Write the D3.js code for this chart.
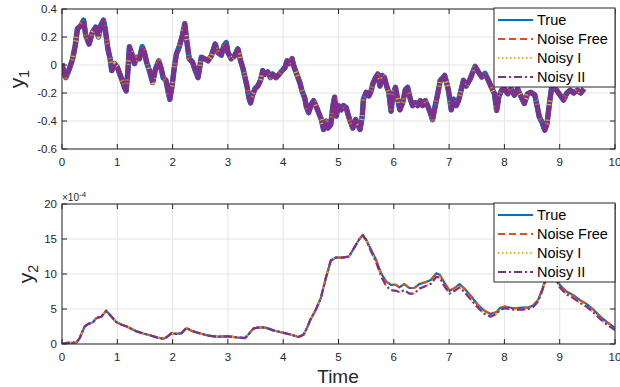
<!DOCTYPE html>
<html>
<head>
<meta charset="utf-8">
<script src="https://cdn.jsdelivr.net/npm/d3@7"></script>
<style>
  body { margin: 0; background: #fff; }
  svg { display: block; font-family: "Liberation Sans", Arial, sans-serif; }
</style>
</head>
<body>
<svg id="chart" width="620" height="387"></svg>
<script>
// ---- data ----
const y1Time = [0,0.04,0.07,0.13,0.19,0.24,0.28,0.34,0.39,0.43,0.49,0.55,0.61,0.66,0.70,0.75,0.78,0.83,0.87,0.90,0.95,
  1.00,1.07,1.13,1.16,1.19,1.22,1.27,1.31,1.35,1.40,1.45,1.49,1.53,1.58,1.64,1.69,1.75,1.79,1.83,1.88,1.93,1.95,1.99,
  2.03,2.07,2.12,2.17,2.22,2.25,2.30,2.36,2.42,2.46,2.52,2.58,2.64,2.70,2.73,2.77,2.82,2.88,2.93,2.97,
  3.00,3.06,3.12,3.18,3.23,3.27,3.31,3.35,3.38,3.41,3.45,3.49,3.54,3.59,3.63,3.67,3.72,3.77,3.81,3.87,3.93,3.98,
  4.03,4.07,4.11,4.16,4.19,4.23,4.30,4.34,4.39,4.42,4.46,4.51,4.55,4.60,4.64,4.69,4.73,4.78,4.81,4.86,4.90,4.93,4.96,
  5.00,5.05,5.09,5.14,5.17,5.21,5.26,5.31,5.35,5.39,5.43,5.45,5.50,5.55,5.59,5.62,5.67,5.71,5.75,5.79,5.83,5.87,5.91,5.95,5.98,
  6.03,6.07,6.11,6.16,6.21,6.25,6.30,6.34,6.39,6.43,6.48,6.52,6.57,6.61,6.66,6.70,6.75,6.80,6.84,6.89,6.92,6.96,6.99,
  7.04,7.08,7.13,7.17,7.22,7.26,7.31,7.38,7.47,7.53,7.59,7.65,7.71,7.76,7.82,7.86,7.90,7.95,
  8.00,8.06,8.12,8.18,8.24,8.30,8.36,8.42,8.48,8.55,8.59,8.63,8.68,8.73,8.77,8.81,8.85,8.89,8.98,
  9.07,9.13,9.19,9.25,9.32,9.38,9.44];
const y1Values = [0.01,-0.065,-0.09,-0.03,0.04,0.14,0.26,0.28,0.32,0.21,0.15,0.235,0.27,0.2,0.28,0.32,0.26,0.115,0.045,-0.04,0.01,
  -0.015,-0.09,-0.16,-0.185,-0.05,0.13,0.07,0.01,0.055,0.045,0.13,0.09,0.02,-0.04,-0.125,-0.03,0.03,-0.02,-0.09,-0.11,-0.21,-0.245,-0.15,
  -0.02,0.08,0.13,0.2,0.295,0.19,0.045,0.02,-0.05,-0.09,0.055,0.045,0.03,0.065,0.10,0.15,0.09,0.07,0.14,0.16,
  0.09,0.045,0.065,0.115,0.03,-0.02,-0.09,-0.16,-0.235,-0.27,-0.21,-0.17,-0.15,-0.11,-0.04,-0.065,-0.05,-0.09,-0.065,-0.09,-0.065,-0.04,
  -0.02,0.03,0.01,0.045,-0.005,-0.05,-0.125,-0.185,-0.235,-0.30,-0.34,-0.28,-0.255,-0.30,-0.34,-0.39,-0.46,-0.40,-0.45,-0.425,-0.29,-0.23,-0.365,
  -0.29,-0.32,-0.29,-0.305,-0.35,-0.40,-0.45,-0.39,-0.425,-0.46,-0.365,-0.245,-0.195,-0.22,-0.185,-0.135,-0.09,-0.065,-0.15,-0.075,-0.09,-0.15,-0.195,-0.33,-0.22,
  -0.16,-0.245,-0.32,-0.27,-0.175,-0.16,-0.245,-0.29,-0.27,-0.29,-0.255,-0.29,-0.255,-0.29,-0.34,-0.39,-0.29,-0.195,-0.11,-0.09,-0.075,-0.135,-0.185,
  -0.32,-0.245,-0.29,-0.255,-0.175,-0.11,-0.15,-0.10,-0.01,-0.05,-0.085,-0.06,-0.11,-0.155,-0.205,-0.325,-0.225,-0.18,
  -0.17,-0.205,-0.17,-0.215,-0.17,-0.225,-0.275,-0.205,-0.195,-0.215,-0.29,-0.37,-0.41,-0.465,-0.42,-0.29,-0.17,-0.15,-0.2,
  -0.25,-0.2,-0.18,-0.2,-0.18,-0.2,-0.17];

const y2Time = [0,0.08,0.26,0.32,0.41,0.47,0.56,0.62,0.71,0.80,0.89,0.98,1.08,1.17,1.26,1.35,1.47,1.59,1.71,1.83,1.89,1.98,
  2.07,2.16,2.25,2.34,2.50,2.65,2.80,3.01,3.16,3.31,3.37,3.46,3.58,3.70,3.82,3.98,4.13,4.28,4.37,4.43,4.49,4.59,4.68,4.77,4.86,4.95,
  5.07,5.19,5.28,5.37,5.44,5.50,5.59,5.68,5.77,5.86,5.95,6.04,6.10,6.19,6.28,6.37,6.46,6.58,6.67,6.77,6.83,6.92,
  7.01,7.10,7.19,7.28,7.40,7.52,7.64,7.75,7.86,7.92,8.01,8.10,8.19,8.31,8.43,8.52,8.61,8.67,8.73,8.80,8.86,8.93,
  9.00,9.12,9.24,9.36,9.49,9.61,9.73,9.85,10.0];
// values in units of 1e-4
const y2True = [0,0.15,0.2,0.85,2.5,2.85,3.1,3.7,3.9,4.75,3.95,3.15,2.75,2.5,2.15,1.8,1.5,1.25,0.95,0.75,0.95,1.55,
  1.45,1.55,2.3,1.9,1.5,1.2,1.05,1.1,0.95,0.85,1.35,2.2,2.4,2.3,1.95,1.65,1.35,1.0,1.35,2.3,3.45,4.9,6.55,9.4,11.9,12.35,
  12.35,12.5,13.7,14.9,15.6,14.9,13.45,12.0,10.1,8.95,8.45,8.45,8.1,8.55,8.0,8.0,8.55,8.85,9.15,10.1,9.9,8.7,
  7.6,8.0,8.55,7.9,6.8,5.6,4.75,4.3,4.55,5.15,5.35,5.2,5.1,5.2,5.2,5.5,6.3,7.5,8.9,10.6,11.0,9.6,
  8.45,7.5,7.0,6.3,5.7,4.9,3.95,3.15,2.3];
const y2Noisy = [0,0.15,0.2,0.85,2.5,2.85,3.1,3.7,3.9,4.75,3.95,3.15,2.75,2.5,2.15,1.8,1.5,1.25,0.95,0.75,0.95,1.55,
  1.45,1.55,2.3,1.9,1.5,1.2,1.05,1.1,0.95,0.85,1.35,2.2,2.4,2.3,1.95,1.65,1.35,1.0,1.35,2.3,3.45,4.9,6.55,9.4,11.9,12.35,
  12.35,12.5,13.7,14.9,15.5,14.8,13.2,11.7,9.7,8.3,7.7,7.6,7.4,7.7,7.2,7.2,7.9,8.3,8.6,9.6,9.5,8.2,
  7.2,7.6,8.1,7.4,6.3,5.2,4.3,3.9,4.3,4.9,5.1,5.0,4.9,4.9,5.0,5.3,6.1,7.3,8.7,10.4,10.8,9.3,
  8.1,7.1,6.6,5.9,5.3,4.5,3.6,2.8,2.0];

const xTicks = [0,1,2,3,4,5,6,7,8,9,10];
const y1Ticks = [-0.6,-0.4,-0.2,0,0.2,0.4];
const y2Ticks = [0,5,10,15,20];
const seriesNames = ["True", "Noise Free", "Noisy I", "Noisy II"];

// ---- styles ----
const colors = ["#0072BD", "#D95319", "#EDB120", "#7E2F8E"];
const dashes = [null, "7,4", "1.5,2.5", "8,3,2,3"];
const axisColor = "#262626";

const left = 62, right = 615;
const svg = d3.select("#chart");

const x = d3.scaleLinear().domain([0, 10]).range([left, right]);

function panel(opts) {
  const y = d3.scaleLinear().domain(opts.domain).range([opts.bottom, opts.top]);
  const g = svg.append("g");
  const clipId = "clip" + opts.id;
  g.append("clipPath").attr("id", clipId)
    .append("rect").attr("x", left).attr("y", opts.top)
    .attr("width", right - left).attr("height", opts.bottom - opts.top);

  // grid
  g.selectAll(".gx").data(xTicks).enter().append("line")
    .attr("x1", d => x(d)).attr("x2", d => x(d))
    .attr("y1", opts.top).attr("y2", opts.bottom)
    .attr("stroke", "#e5e5e5").attr("stroke-width", 1);
  g.selectAll(".gy").data(opts.ticks).enter().append("line")
    .attr("x1", left).attr("x2", right)
    .attr("y1", d => y(d)).attr("y2", d => y(d))
    .attr("stroke", "#e5e5e5").attr("stroke-width", 1);

  // series
  const lines = g.append("g").attr("clip-path", "url(#" + clipId + ")");
  opts.series.forEach((s, i) => {
    const pts = s.t.map((t, k) => [t, s.v[k]]);
    lines.append("path")
      .datum(pts)
      .attr("fill", "none")
      .attr("stroke", colors[i])
      .attr("stroke-width", opts.widths[i])
      .attr("stroke-linejoin", "round")
      .attr("stroke-dasharray", opts.dash ? opts.dash[i] : dashes[i])
      .attr("d", d3.line().x(d => x(d[0])).y(d => y(d[1])));
  });

  // axes (MATLAB box, ticks inward)
  const ax = g.append("g");
  ax.append("rect").attr("x", left).attr("y", opts.top)
    .attr("width", right - left).attr("height", opts.bottom - opts.top)
    .attr("fill", "none").attr("stroke", axisColor).attr("stroke-width", 1);
  const tl = 5;
  xTicks.forEach(d => {
    ax.append("line").attr("x1", x(d)).attr("x2", x(d)).attr("y1", opts.bottom).attr("y2", opts.bottom - tl)
      .attr("stroke", axisColor);
    ax.append("line").attr("x1", x(d)).attr("x2", x(d)).attr("y1", opts.top).attr("y2", opts.top + tl)
      .attr("stroke", axisColor);
    ax.append("text").attr("x", x(d)).attr("y", opts.bottom + 17)
      .attr("text-anchor", "middle").attr("font-size", 11.5).attr("fill", axisColor)
      .text(d);
  });
  opts.ticks.forEach(d => {
    ax.append("line").attr("x1", left).attr("x2", left + tl).attr("y1", y(d)).attr("y2", y(d))
      .attr("stroke", axisColor);
    ax.append("line").attr("x1", right).attr("x2", right - tl).attr("y1", y(d)).attr("y2", y(d))
      .attr("stroke", axisColor);
    ax.append("text").attr("x", left - 5).attr("y", y(d) + 4)
      .attr("text-anchor", "end").attr("font-size", 11.5).attr("fill", axisColor)
      .text(opts.fmt(d));
  });

  // y label
  const lab = ax.append("text")
    .attr("transform", `translate(${opts.labelX},${(opts.top + opts.bottom) / 2}) rotate(-90)`)
    .attr("text-anchor", "middle").attr("font-size", 21).attr("fill", axisColor);
  lab.append("tspan").text("y");
  lab.append("tspan").attr("font-size", 14).attr("dy", 5).text(opts.sub);

  // legend
  const lw = 121, lh = 79;
  const lg = g.append("g").attr("transform", `translate(${right - lw},${opts.top - 1})`);
  lg.append("rect").attr("width", lw).attr("height", lh)
    .attr("fill", "#fff").attr("stroke", axisColor).attr("stroke-width", 1);
  seriesNames.forEach((name, i) => {
    const yy = 12 + i * 19;
    lg.append("line").attr("x1", 4).attr("x2", 39).attr("y1", yy).attr("y2", yy)
      .attr("stroke", colors[i]).attr("stroke-width", 2)
      .attr("stroke-dasharray", dashes[i]);
    lg.append("text").attr("x", 43).attr("y", yy + 5)
      .attr("font-size", 14.5).attr("fill", "#000").text(name);
  });
  return y;
}

panel({
  id: 1, top: 9, bottom: 149, domain: [-0.6, 0.4], ticks: y1Ticks,
  fmt: d => d === 0 ? "0" : d3.format(".1f")(d).replace("\u2212", "-"),
  sub: "1", labelX: 24,
  widths: [5.5, 4, 4, 4.8],
  dash: [null, "7,4", "1.5,2.5", "14,1.5,2,1.5"],
  series: [0, 1, 2, 3].map(() => ({ t: y1Time, v: y1Values }))
});

panel({
  id: 2, top: 204, bottom: 344, domain: [0, 20], ticks: y2Ticks,
  fmt: d => d, sub: "2", labelX: 33,
  widths: [2.2, 2, 2, 2.2],
  series: [
    { t: y2Time, v: y2True },
    { t: y2Time, v: y2True },
    { t: y2Time, v: y2Noisy },
    { t: y2Time, v: y2Noisy }
  ]
});

// exponent label
const ex = svg.append("text").attr("x", 62).attr("y", 201)
  .attr("font-size", 10).attr("fill", axisColor);
ex.append("tspan").text("\u00d710");
ex.append("tspan").attr("font-size", 8).attr("dy", -4).text("-4");

// x label
svg.append("text").attr("x", 338).attr("y", 383)
  .attr("text-anchor", "middle").attr("font-size", 19).attr("fill", axisColor)
  .text("Time");
</script>
</body>
</html>
